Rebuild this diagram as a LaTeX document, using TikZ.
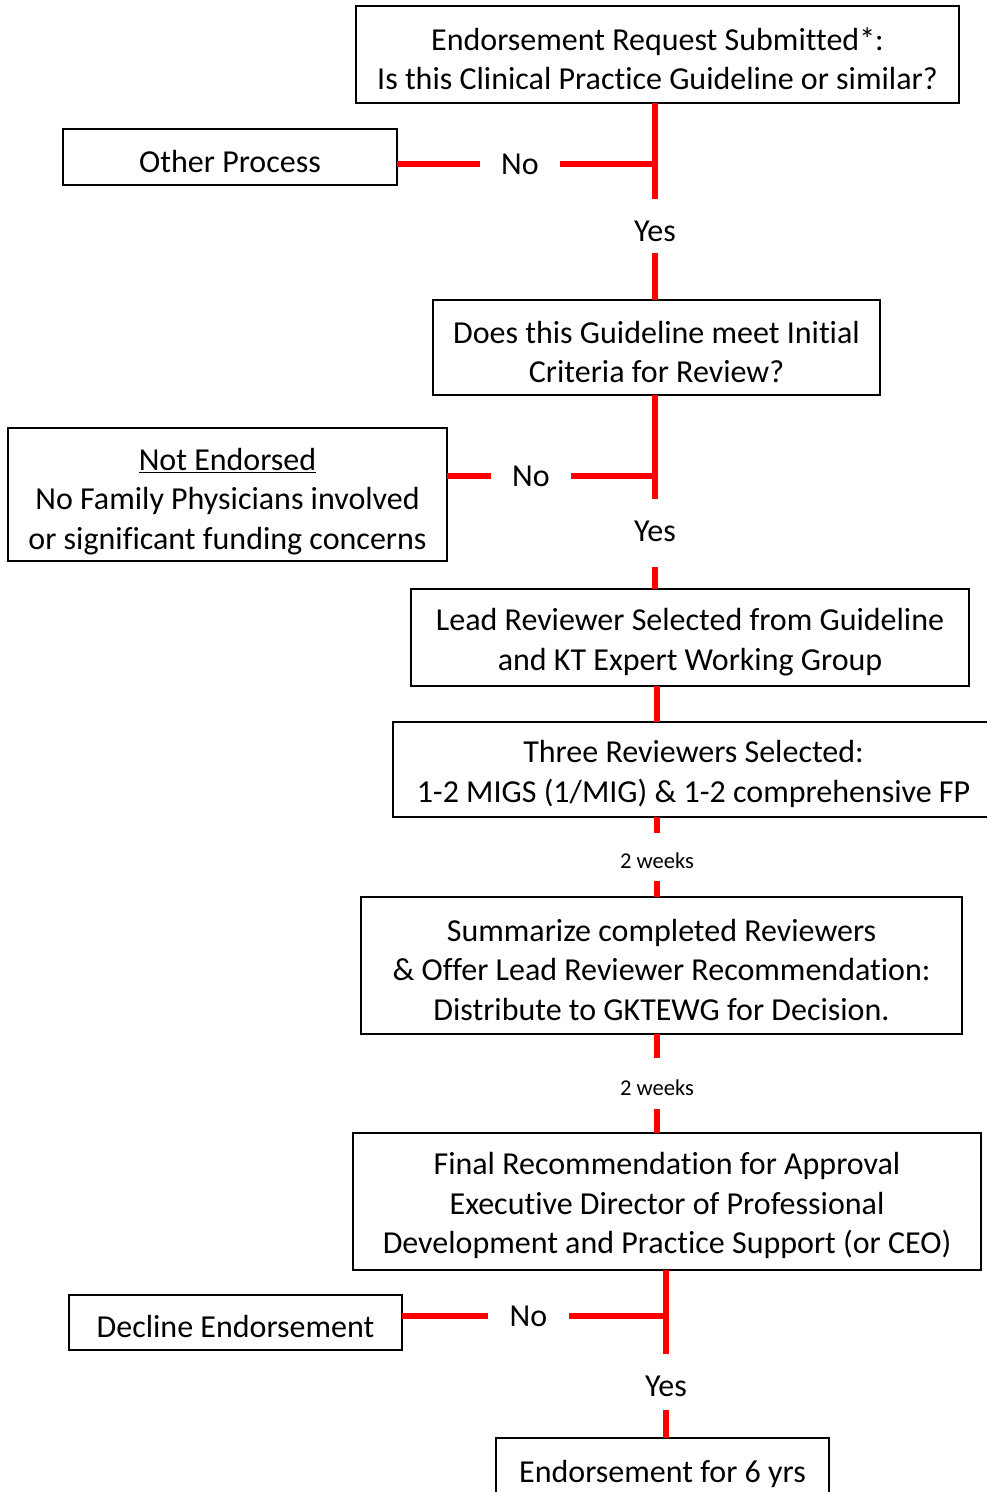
\documentclass[tikz,border=0pt]{standalone}
\usepackage{fontspec}
\setmainfont{Carlito}[Ligatures={NoCommon}]
\newcommand\mystrut{\rule{0pt}{31pt}}
\begin{document}
\begin{tikzpicture}[x=1pt,y=-1pt,
  box/.style={draw=black,line width=1.3pt,inner sep=0pt,outer sep=0pt,align=center,
    font=\fontsize{32}{39.5}\selectfont},
  lbl/.style={inner sep=0pt,outer sep=0pt,font=\fontsize{32}{39.5}\selectfont},
  wk/.style={inner sep=0pt,outer sep=0pt,font=\fontsize{22.6}{26}\selectfont},
  link/.style={draw=red,line width=6pt}]
\useasboundingbox (0,0) rectangle (987,1492);
\clip (0,0) rectangle (987,1492);
% boxes
\node[box,minimum width=603pt,minimum height=97pt] (b1) at (657.5,54.5)
  {\mystrut Endorsement Request Submitted*:\\Is this Clinical Practice Guideline or similar?};
\node[box,minimum width=334pt,minimum height=56pt] (other) at (230,157) {\mystrut Other Process};
\node[box,minimum width=447pt,minimum height=95pt] (b2) at (656.5,347.5)
  {\mystrut Does this Guideline meet Initial\\Criteria for Review?};
\node[box,minimum width=439pt,minimum height=133pt] (notend) at (227.5,494.5)
  {\rule{0pt}{36pt}\underline{Not Endorsed}\\No Family Physicians involved\\or significant funding concerns};
\node[box,minimum width=558pt,minimum height=97pt] (b4) at (690,637.5)
  {\mystrut Lead Reviewer Selected from Guideline\\and KT Expert Working Group};
\node[box,minimum width=601pt,minimum height=95pt] (b5) at (693.5,769.5)
  {\mystrut Three Reviewers Selected:\\1-2 MIGS (1/MIG) \& 1-2 comprehensive FP};
\node[box,minimum width=601pt,minimum height=137pt] (b6) at (661.5,965.5)
  {\mystrut Summarize completed Reviewers\\\& Offer Lead Reviewer Recommendation:\\Distribute to GKTEWG for Decision.};
\node[box,minimum width=628pt,minimum height=137pt] (b7) at (667,1201.5)
  {\mystrut Final Recommendation for Approval\\Executive Director of Professional\\Development and Practice Support (or CEO)};
\node[box,minimum width=333pt,minimum height=55pt] (decline) at (235.5,1322.5) {\mystrut Decline Endorsement};
\node[box,minimum width=333pt,minimum height=64pt] (endo) at (662.5,1470) {\mystrut Endorsement for 6 yrs};
% labels
\node[lbl,minimum width=80pt] (no1) at (520,164) {No};
\node[lbl,anchor=base,text height=42pt,text depth=12pt] (yes1) at (655,241) {Yes};
\node[lbl,minimum width=80pt] (no2) at (531,476) {No};
\node[lbl,anchor=base,text height=42pt,text depth=26pt] (yes2) at (655,541) {Yes};
\node[wk,anchor=base,text height=35pt,text depth=13pt] (wk1) at (657,868) {2 weeks};
\node[wk,anchor=base,text height=37pt,text depth=14pt] (wk2) at (657,1095) {2 weeks};
\node[lbl,minimum width=81pt] (no3) at (528.5,1316) {No};
\node[lbl,anchor=base,text height=42pt,text depth=14pt] (yes3) at (666,1396) {Yes};
% connectors
\draw[link] (yes1 |- b1.south) -- (yes1.north);
\draw[link] (yes1.south) -- (yes1 |- b2.north);
\draw[link] (no1.east) -- (no1 -| yes1);
\draw[link] (no1.west) -- (no1 -| other.east);
\draw[link] (yes2 |- b2.south) -- (yes2.north);
\draw[link] (yes2.south) -- (yes2 |- b4.north);
\draw[link] (no2.east) -- (no2 -| yes2);
\draw[link] (no2.west) -- (no2 -| notend.east);
\draw[link] (wk1 |- b4.south) -- (wk1 |- b5.north);
\draw[link] (wk1 |- b5.south) -- (wk1.north);
\draw[link] (wk1.south) -- (wk1 |- b6.north);
\draw[link] (wk2 |- b6.south) -- (wk2.north);
\draw[link] (wk2.south) -- (wk2 |- b7.north);
\draw[link] (yes3 |- b7.south) -- (yes3.north);
\draw[link] (yes3.south) -- (yes3 |- endo.north);
\draw[link] (no3.east) -- (no3 -| yes3);
\draw[link] (no3.west) -- (no3 -| decline.east);
\end{tikzpicture}
\end{document}
